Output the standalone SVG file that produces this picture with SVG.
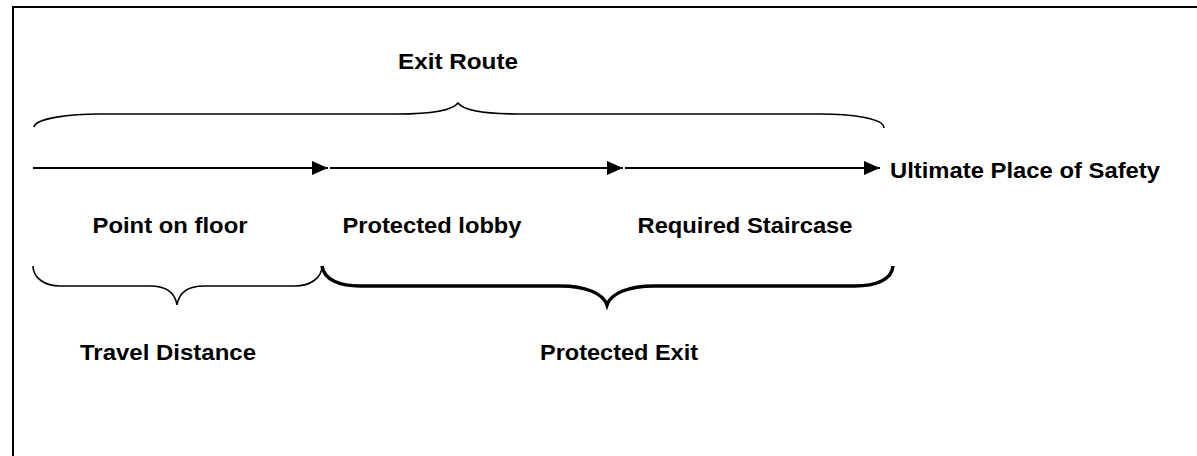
<svg xmlns="http://www.w3.org/2000/svg" width="1197" height="456" viewBox="0 0 1197 456">
<defs>
<style>
.t{font-family:"Liberation Sans",Arial,sans-serif;font-weight:bold;font-size:22px;fill:#000;text-anchor:middle}
.ln{stroke:#000;stroke-width:2;fill:none}
.br{stroke:#000;stroke-width:1.6;fill:none}
.brk{stroke:#000;stroke-width:3.5;fill:none}
</style>
<marker id="ah" markerWidth="16" markerHeight="14" refX="16" refY="7" markerUnits="userSpaceOnUse" orient="auto">
<path d="M0,0 L16,7 L0,14 Z" fill="#000"/>
</marker>
</defs>
<rect width="1197" height="456" fill="#fff"/>
<path d="M13,456 V7 H1197" fill="none" stroke="#000" stroke-width="2"/>
<g id="connectors">
<line class="ln" x1="33" y1="168" x2="328" y2="168" marker-end="url(#ah)"/>
<line class="ln" x1="330" y1="168" x2="623" y2="168" marker-end="url(#ah)"/>
<line class="ln" x1="625" y1="168" x2="880" y2="168" marker-end="url(#ah)"/>
</g>
<g id="brace-exit-route">
<path class="br" d="M34,127 C36,118 70,114 100,114 H397 C430,114 452,111 458,103 C464,111 486,114 519,114 H820 C850,114 884,118 884,128"/>
</g>
<g id="brace-travel">
<path class="br" d="M33,266 C33,278 45,286 60,286 H150 C165,286 175,292 177,305 C179,292 189,286 204,286 H295 C310,286 322,278 322,266"/>
</g>
<g id="brace-protected">
<path class="brk" d="M322,266 C324,280 340,286 360,286 H560 C585,286 603,293 607,305 C611,293 629,286 654,286 H855 C875,286 892,280 893,266"/>
</g>
<g id="label-exit-route"><text class="t" x="458" y="69" textLength="120" lengthAdjust="spacingAndGlyphs">Exit Route</text></g>
<g id="label-ultimate"><text class="t" x="890" y="178" style="text-anchor:start" textLength="270" lengthAdjust="spacingAndGlyphs">Ultimate Place of Safety</text></g>
<g id="label-point"><text class="t" x="170" y="233" textLength="155" lengthAdjust="spacingAndGlyphs">Point on floor</text></g>
<g id="label-lobby"><text class="t" x="432" y="233" textLength="179" lengthAdjust="spacingAndGlyphs">Protected lobby</text></g>
<g id="label-staircase"><text class="t" x="745" y="233" textLength="215" lengthAdjust="spacingAndGlyphs">Required Staircase</text></g>
<g id="label-travel"><text class="t" x="168" y="360" textLength="176" lengthAdjust="spacingAndGlyphs">Travel Distance</text></g>
<g id="label-protected-exit"><text class="t" x="619" y="360" textLength="158" lengthAdjust="spacingAndGlyphs">Protected Exit</text></g>
</svg>
